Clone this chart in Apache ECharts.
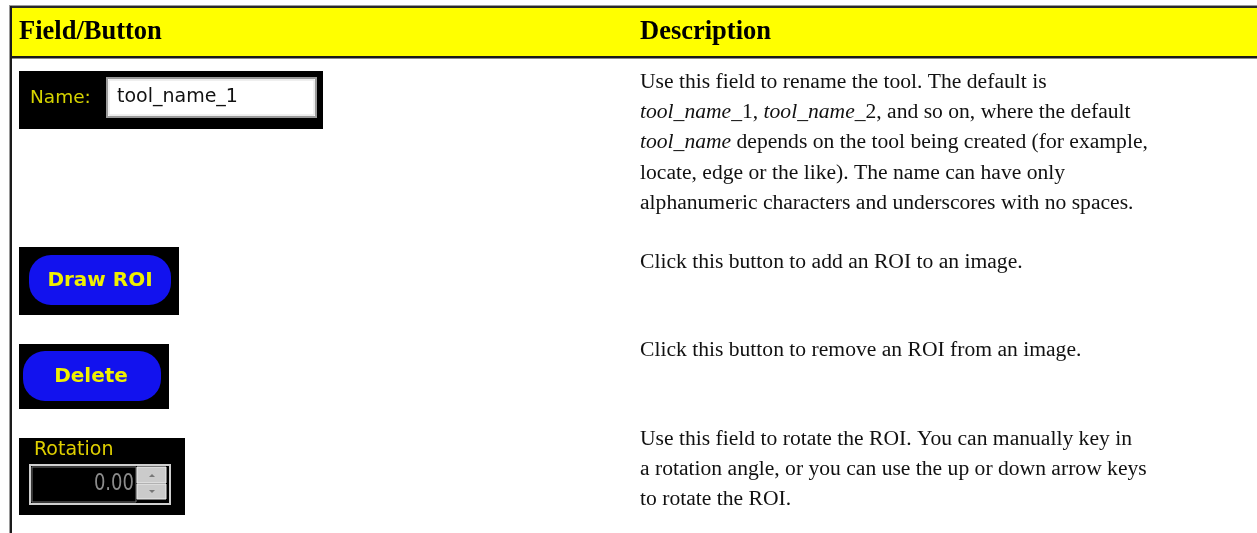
<!DOCTYPE html>
<html><head><meta charset="utf-8">
<script src="https://cdn.jsdelivr.net/npm/echarts@6/dist/echarts.min.js"></script>
<style>html,body{margin:0;padding:0;background:#fff}#c{width:1257px;height:533px}</style>
</head><body><div id="c"></div>
<script>
// ---- content ----
var headers = ['Field/Button', 'Description'];
var widgetNames = ['Name', 'Draw ROI', 'Delete', 'Rotation'];
var nameFieldValue = 'tool_name_1';
var rotationValue = '0.00';
var descName = [
  'Use this field to rename the tool. The default is',
  '{i|tool_name}_1, {i|tool_name}_2, and so on, where the default',
  '{i|tool_name} depends on the tool being created (for example,',
  'locate, edge or the like). The name can have only',
  'alphanumeric characters and underscores with no spaces.'
];
var descDraw = ['Click this button to add an ROI to an image.'];
var descDelete = ['Click this button to remove an ROI from an image.'];
var descRotation = [
  'Use this field to rotate the ROI. You can manually key in',
  'a rotation angle, or you can use the up or down arrow keys',
  'to rotate the ROI.'
];
var descriptions = [descName, descDraw, descDelete, descRotation];

// ---- layout ----
var W = 1257, H = 533;
var serif = '"Liberation Serif","Times New Roman",serif';
var sans = '"DejaVu Sans",Verdana,sans-serif';
var descTop = [82, 262, 350, 439];
var lineH = 30.3;
var els = [];

// header band and borders
els.push({type:'rect', shape:{x:12,y:8,width:W-12,height:48}, style:{fill:'#ffff00'}, silent:true});
els.push({type:'rect', shape:{x:9,y:5,width:W-9,height:1}, style:{fill:'#9a9a9a'}});
els.push({type:'rect', shape:{x:9,y:6,width:W-9,height:2}, style:{fill:'#2a2a2a'}});
els.push({type:'rect', shape:{x:9,y:5,width:1,height:H-5}, style:{fill:'#9a9a9a'}});
els.push({type:'rect', shape:{x:10,y:6,width:2,height:H-6}, style:{fill:'#1a1a1a'}});
els.push({type:'rect', shape:{x:12,y:56,width:W-12,height:2}, style:{fill:'#1a1a1a'}});
els.push({type:'rect', shape:{x:12,y:58,width:W-12,height:1}, style:{fill:'#8a8a8a'}});

els.push({type:'text', x:19, y:32, style:{text:headers[0], font:'bold 26.5px '+serif, fill:'#000', textVerticalAlign:'middle'}});
els.push({type:'text', x:640, y:32, style:{text:headers[1], font:'bold 26.5px '+serif, fill:'#000', textVerticalAlign:'middle'}});

// description text
descriptions.forEach(function(lines, r){
  lines.forEach(function(l, k){
    els.push({type:'text', x:640, y:descTop[r]+k*lineH,
      style:{text:l, font:'21.6px '+serif, fill:'#111', verticalAlign:'middle', textVerticalAlign:'middle',
        rich:{i:{fontStyle:'italic', fontSize:21.6, fontFamily:serif, fill:'#111'}}}});
  });
});

// widget 1: Name field
els.push({type:'rect', shape:{x:19,y:71,width:304,height:58}, style:{fill:'#000'}});
els.push({type:'text', x:30, y:98, style:{text:widgetNames[0]+':', font:'18.5px '+sans, fill:'#d6d400', textVerticalAlign:'middle'}});
els.push({type:'rect', shape:{x:107,y:78,width:209,height:39}, style:{fill:'#fbfbfb', stroke:'#9a9a9a', lineWidth:2}});
els.push({type:'rect', shape:{x:109,y:80,width:205,height:35}, style:{fill:'#fff', stroke:'#e0e0e0', lineWidth:1}});
els.push({type:'text', x:117, y:97, style:{text:nameFieldValue, font:'19px '+sans, fill:'#111', textVerticalAlign:'middle'}});

// widget 2: Draw ROI button
els.push({type:'rect', shape:{x:19,y:247,width:160,height:68}, style:{fill:'#000'}});
els.push({type:'rect', shape:{x:29,y:255,width:142,height:50,r:22}, style:{fill:'#1212ee'}});
els.push({type:'text', x:100, y:281, style:{text:widgetNames[1], font:'bold 20px '+sans, fill:'#f0f000', textAlign:'center', textVerticalAlign:'middle'}});

// widget 3: Delete button
els.push({type:'rect', shape:{x:19,y:344,width:150,height:65}, style:{fill:'#000'}});
els.push({type:'rect', shape:{x:23,y:351,width:138,height:50,r:22}, style:{fill:'#1212ee'}});
els.push({type:'text', x:91, y:377, style:{text:widgetNames[2], font:'bold 20px '+sans, fill:'#f0f000', textAlign:'center', textVerticalAlign:'middle'}});

// widget 4: Rotation spinner
els.push({type:'rect', shape:{x:19,y:438,width:166,height:77}, style:{fill:'#000'}});
els.push({type:'text', x:34, y:450, style:{text:widgetNames[3], font:'19px '+sans, fill:'#e0d000', textVerticalAlign:'middle'}});
els.push({type:'rect', shape:{x:30,y:465,width:140,height:39}, style:{fill:'#000', stroke:'#cfcfcf', lineWidth:2}});
els.push({type:'rect', shape:{x:32,y:467,width:104,height:35}, style:{fill:'#000', stroke:'#707070', lineWidth:1}});
els.push({type:'text', x:134, y:484, scaleY:1.3, style:{text:rotationValue, font:'18px '+sans, fill:'#8c8c8c', textAlign:'right', textVerticalAlign:'middle'}});
els.push({type:'rect', shape:{x:137,y:467,width:29,height:16}, style:{fill:'#cbcbcb', stroke:'#eeeeee', lineWidth:1}});
els.push({type:'rect', shape:{x:137,y:484,width:29,height:15}, style:{fill:'#cbcbcb', stroke:'#eeeeee', lineWidth:1}});
els.push({type:'polygon', shape:{points:[[149,477],[155,477],[152,474]]}, style:{fill:'#777'}});
els.push({type:'polygon', shape:{points:[[149,490],[155,490],[152,493]]}, style:{fill:'#777'}});

var chart = echarts.init(document.getElementById('c'), null, {renderer:'canvas'});
chart.setOption({backgroundColor:'#fff', animation:false, graphic:{elements:els}});
</script></body></html>
